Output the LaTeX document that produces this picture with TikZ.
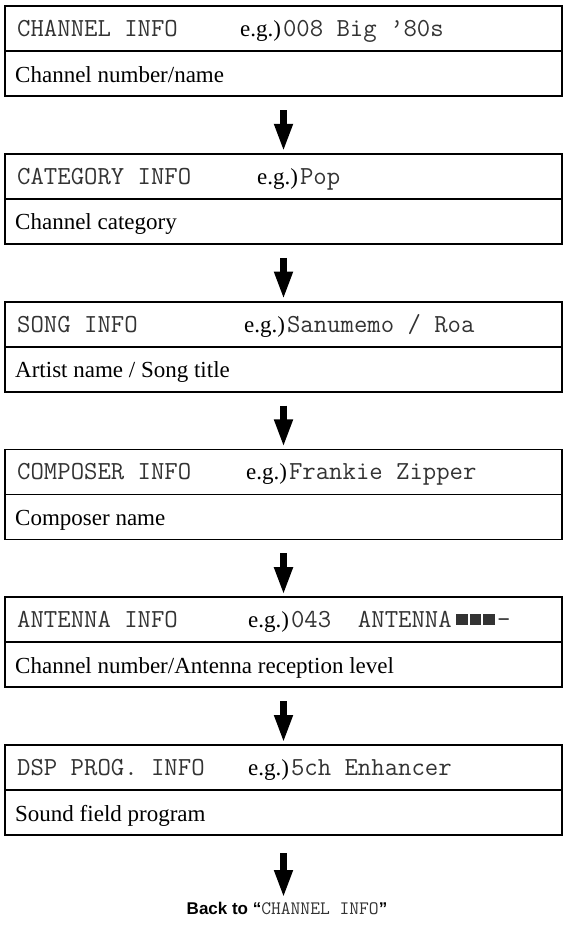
\documentclass[tikz,border=0pt]{standalone}
\usepackage{fontspec}
\setmainfont{Liberation Serif}
\setsansfont{Liberation Sans}
\usepackage{xcolor}
\usetikzlibrary{arrows.meta, positioning}

\newcommand{\lcdfont}{\fontsize{26}{30}\selectfont\ttfamily\color{black!80}}
\newcommand{\descfont}{\fontsize{23}{27}\selectfont\rmfamily}
\newcommand{\backfont}{\fontsize{17}{20}\selectfont\sffamily\bfseries}
\newcommand{\lcdsmall}{\fontsize{19}{22}\selectfont\ttfamily\mdseries\color{black!80}}
\newcommand{\lcdblock}{\rule[0.1em]{0.46em}{0.42em}\hspace{0.07em}}

\tikzset{
	rowbox/.style={draw, line width=1.8pt, minimum width=557pt, minimum height=45pt,
		inner sep=0pt, outer sep=0pt},
	lcdtext/.style={anchor=base west, inner sep=0pt, font=\lcdfont},
	egtext/.style={anchor=base west, inner sep=0pt, font=\descfont},
	desctext/.style={anchor=base west, inner sep=0pt, font=\descfont},
	flowarrow/.style={line width=7pt, -{Triangle[width=17pt,length=28pt]},
		shorten <=14pt, shorten >=2pt},
}

\begin{document}
\begin{tikzpicture}[x=1pt, y=1pt]
	\useasboundingbox (0,0) rectangle (565,-926);
	% ---------- display boxes: top row = front panel, bottom row = meaning ----------
	\foreach \i/\lab/\gx/\sample/\what [evaluate=\i as \y using -6-147.8*\i] in {
		0/CHANNEL INFO/240/{008 Big ’80s}/{Channel number/name},
		1/CATEGORY INFO/257/{Pop}/{Channel category},
		2/SONG INFO/244/{Sanumemo / Roa}/{Artist name / Song title},
		3/COMPOSER INFO/246/{Frankie Zipper}/{Composer name},
		4/ANTENNA INFO/248/{043~~ANTENNA\hspace{4pt}\lcdblock\lcdblock\lcdblock-}/{Channel number/Antenna reception level},
		5/DSP PROG. INFO/248/{5ch Enhancer}/{Sound field program}}
	{
		\node[rowbox, anchor=north west] (top\i) at (5,\y) {};
		\node[rowbox, anchor=north] (bot\i) at (top\i.south) {};
		\node[lcdtext] (lab\i) at (17,{\y-30.5}) {\lab};
		\node[egtext] (eg\i) at ({\gx},{\y-30.5}) {e.g.)\hspace{2pt}{\lcdfont\sample}};
		\node[desctext] (desc\i) at (15,{\y-45-31}) {\what};
	}
	% ---------- arrows between the boxes ----------
	\foreach \i [evaluate=\i as \j using int(\i+1)] in {0,...,4}
	\draw[flowarrow] (bot\i.south) -- (top\j.north);
	% ---------- back to the first display ----------
	\coordinate (backtip) at (283.5,-898);
	\draw[flowarrow, shorten <=18pt, shorten >=0pt] (bot5.south) -- (backtip);
	\node[anchor=base, inner sep=0pt] (back) at (287,-914)
	{\backfont Back to “{\lcdsmall CHANNEL INFO}”};
\end{tikzpicture}
\end{document}
